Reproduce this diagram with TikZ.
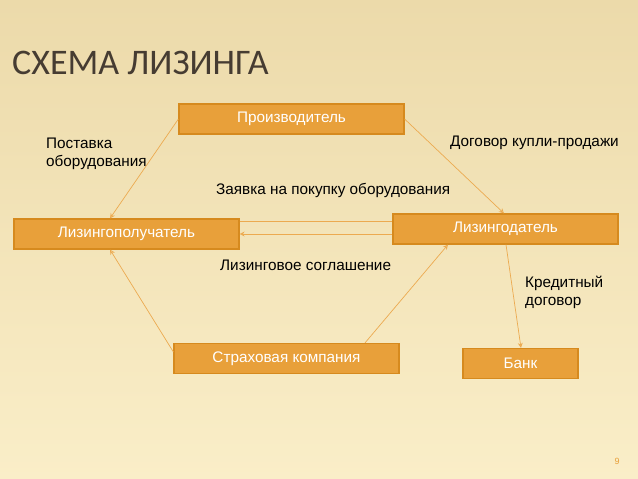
\documentclass[tikz,border=0pt]{standalone}
\usepackage{fontspec}
\setmainfont{Liberation Sans}
\newfontfamily\titlefont{Carlito}
\usetikzlibrary{arrows.meta, positioning}
\definecolor{boxfill}{RGB}{232,160,58}
\definecolor{boxline}{RGB}{214,138,30}
\definecolor{arrowcol}{RGB}{236,170,80}
\definecolor{bgtop}{RGB}{236,218,170}
\definecolor{bgbot}{RGB}{250,238,200}
\definecolor{titlecol}{RGB}{70,60,50}
\begin{document}
\begin{tikzpicture}[
    x=1pt, y=-1pt,
    font=\fontsize{15.3}{18}\selectfont,
    % Styles
    partybox/.style={
        draw=boxline, fill=boxfill, text=white, line width=1.2pt,
        minimum width=225pt, minimum height=30pt, inner sep=2pt
    },
    caption/.style={align=left, anchor=north west, inner sep=0pt},
    arrow/.style={-{Stealth[length=5pt,width=5pt,open]}, arrowcol, line width=0.7pt},
    plainline/.style={arrowcol, line width=0.7pt}
]
    % background and margins
    \shade[top color=bgtop, bottom color=bgbot, use as bounding box] (0,0) rectangle (638,479);

    % --- Title ---
    \node[anchor=west, inner sep=0pt, text=titlecol, font=\titlefont\fontsize{36}{40}\selectfont] (title) at (12,63) {СХЕМА ЛИЗИНГА};

    % --- Parties ---
    \node[partybox] (maker) at (291.5,119) {Производитель};
    \node[partybox] (lessee) at (126.5,234) {Лизингополучатель};
    \node[partybox] (lessor) at (505.5,229) {Лизингодатель};
    \node[partybox] (insurer) at (286.5,358.5) {Страховая компания};
    \node[partybox, minimum width=115pt] (bank) at (520.5,363.5) {Банк};

    % --- Connections ---
    \draw[arrow] (maker.west) -- (lessee.north -| 110,0);
    \draw[arrow] (maker.east) -- (lessor.north -| 504,0);
    \draw[plainline] (lessee.east |- 0,221) -- (lessor.west |- 0,221);
    \draw[arrow] (lessor.west |- 0,234) -- (lessee.east |- 0,234);
    \draw[arrow] (insurer.west |- 0,352) -- (lessee.south -| 110,0);
    \draw[arrow] (insurer.north -| 365,0) -- (lessor.south -| 448,0);
    \draw[arrow] (lessor.south -| 506,0) -- (bank.north -| 521,0);

    % --- Labels ---
    \node[caption] (supply) at (46,138) {Поставка\\оборудования};
    \node[caption] (sale) at (450,136) {Договор купли-продажи};
    \node[caption] (order) at (216,183) {Заявка на покупку оборудования};
    \node[caption] (leasing) at (220,260) {Лизинговое соглашение};
    \node[caption] (credit) at (525,276) {Кредитный\\договор};
    \node[text=boxfill, font=\fontsize{9}{10}\selectfont] (page) at (617,461) {9};
\end{tikzpicture}
\end{document}
